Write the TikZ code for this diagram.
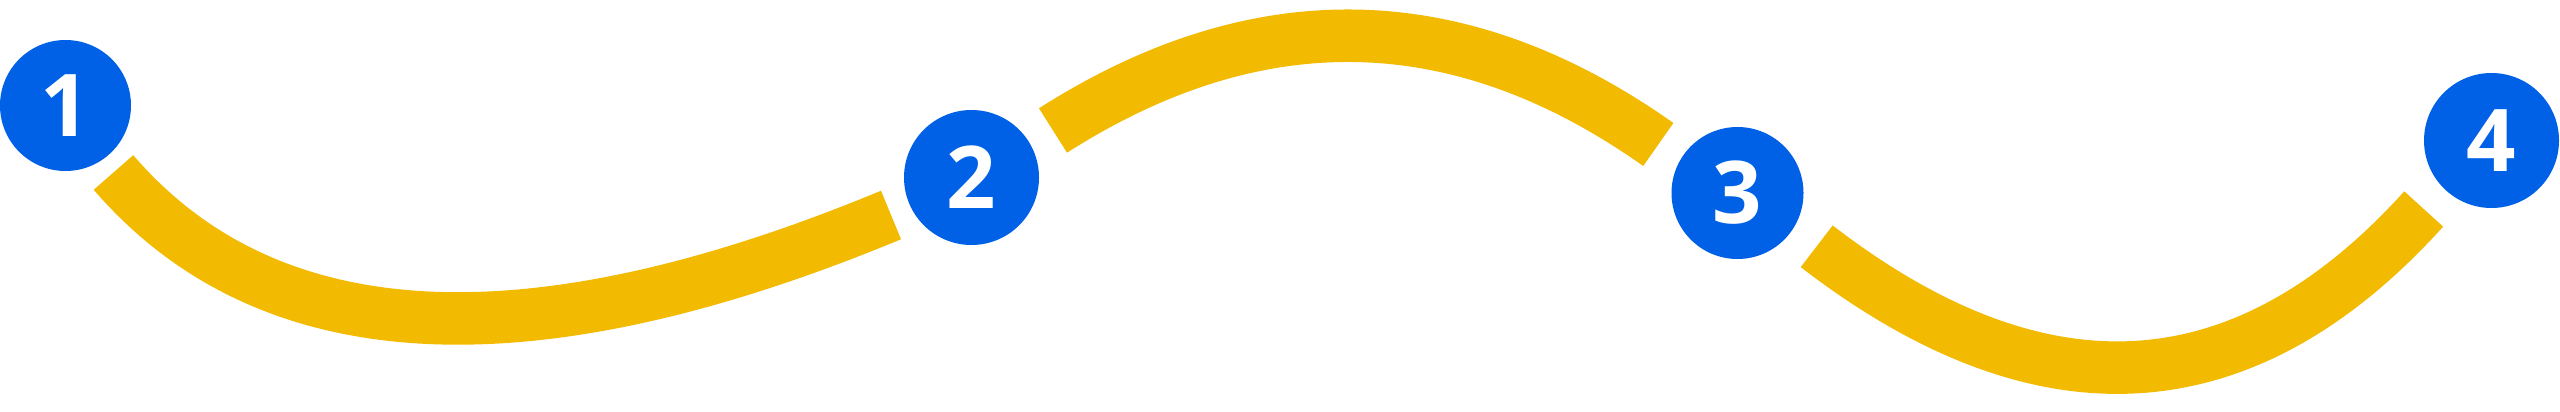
\documentclass[tikz,border=0pt]{standalone}
\usepackage{fontspec}
\setmainfont{Open Sans}
\usetikzlibrary{calc}
\definecolor{stepblue}{HTML}{0061E6}
\definecolor{pathyellow}{HTML}{F2BA00}
\begin{document}
\begin{tikzpicture}[x=1pt,y=-1pt,
  numdot/.style={circle, fill=stepblue, text=white, inner sep=0pt, outer sep=0pt,
    font=\fontsize{86.6}{90}\selectfont\bfseries},
  trail/.style={draw=pathyellow, line width=52.5pt, line cap=butt}]
\useasboundingbox (0,0) rectangle (2560,412);
% numbered circles
\node[numdot, minimum size=131pt] (n1) at (65.5,105.5) {1};
\node[numdot, minimum size=135pt] (n2) at (971.5,177.5) {2};
\node[numdot, minimum size=132pt] (n3) at (1737.5,193) {3};
\node[numdot, minimum size=135pt] (n4) at (2491.5,140.5) {4};
% trail ends and (quadratic) control points
\coordinate (a1) at (113.5,172.5);
\coordinate (q1) at (345.4,441.3);
\coordinate (b1) at (891,215);
\coordinate (a2) at (1053,130.5);
\coordinate (q2) at (1360.9,-65.8);
\coordinate (b2) at (1658.3,144.5);
\coordinate (a3) at (1816.7,246.3);
\coordinate (q3) at (2154.8,506.4);
\coordinate (b3) at (2423.7,209);
% trails
\draw[trail] (a1) .. controls ($(a1)!2/3!(q1)$) and ($(b1)!2/3!(q1)$) .. (b1);
\draw[trail] (a2) .. controls ($(a2)!2/3!(q2)$) and ($(b2)!2/3!(q2)$) .. (b2);
\draw[trail] (a3) .. controls ($(a3)!2/3!(q3)$) and ($(b3)!2/3!(q3)$) .. (b3);
\end{tikzpicture}
\end{document}
